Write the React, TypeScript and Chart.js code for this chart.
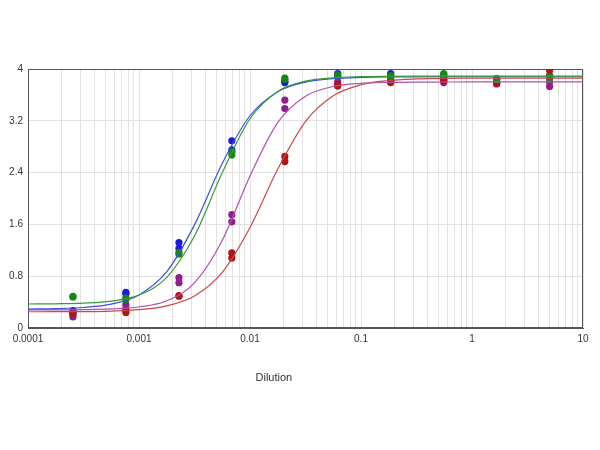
import { useEffect, useRef } from "react"
import { Chart, registerables } from "chart.js"

Chart.register(...registerables)

// dilution steps (x) of the measured points, 3-fold series
const dilutions = [0.000254, 0.000762, 0.00229, 0.00686, 0.0206, 0.0617, 0.185, 0.556, 1.667, 5]

// replicate readings per series
const greenRep1 = [0.48, 0.46, 1.14, 2.67, 3.86, 3.91, 3.9, 3.93, 3.85, 3.88]
const greenRep2 = [0.49, 0.44, 1.17, 2.72, 3.84, 3.88, 3.88, 3.91, 3.84, 3.86]
const blueRep1 = [0.27, 0.55, 1.32, 2.89, 3.79, 3.93, 3.93, 3.89, 3.83, 3.89]
const blueRep2 = [0.24, 0.53, 1.23, 2.75, 3.81, 3.89, 3.89, 3.88, 3.85, 3.87]
const purpleRep1 = [0.21, 0.36, 0.78, 1.75, 3.52, 3.8, 3.83, 3.84, 3.77, 3.8]
const purpleRep2 = [0.17, 0.3, 0.7, 1.64, 3.39, 3.74, 3.79, 3.79, 3.78, 3.73]
const redRep1 = [0.22, 0.24, 0.5, 1.16, 2.65, 3.76, 3.82, 3.82, 3.8, 3.98]
const redRep2 = [0.24, 0.27, 0.49, 1.08, 2.57, 3.74, 3.8, 3.83, 3.78, 3.9]

// fitted curves, every quarter decade
const curveX = [
  0.0001, 0.000178, 0.000316, 0.000562, 0.001, 0.00178, 0.00316, 0.00562, 0.01, 0.0178, 0.0316,
  0.0562, 0.1, 0.178, 0.316, 0.562, 1, 1.78, 3.16, 5.62, 10,
]
const greenCurve = [
  0.371, 0.374, 0.384, 0.415, 0.51, 0.783, 1.42, 2.398, 3.232, 3.654, 3.812, 3.865, 3.882, 3.888,
  3.89, 3.89, 3.89, 3.89, 3.89, 3.89, 3.89,
]
const blueCurve = [
  0.293, 0.299, 0.317, 0.368, 0.511, 0.871, 1.593, 2.542, 3.278, 3.65, 3.798, 3.852, 3.87, 3.877,
  3.879, 3.88, 3.88, 3.88, 3.88, 3.88, 3.88,
]
const purpleCurve = [
  0.28, 0.281, 0.284, 0.294, 0.324, 0.42, 0.697, 1.351, 2.348, 3.176, 3.581, 3.73, 3.778, 3.793,
  3.798, 3.799, 3.8, 3.8, 3.8, 3.8, 3.8,
]
const redCurve = [
  0.251, 0.252, 0.254, 0.262, 0.283, 0.342, 0.494, 0.858, 1.551, 2.455, 3.188, 3.586, 3.757, 3.822,
  3.846, 3.855, 3.858, 3.859, 3.86, 3.86, 3.86,
]

// axes
const xMajorTicks = [0.0001, 0.001, 0.01, 0.1, 1, 10]
const xTickLabels = ["0.0001", "0.001", "0.01", "0.1", "1", "10"]
const yTicks = [0, 0.8, 1.6, 2.4, 3.2, 4]
const yTickLabels = ["0", "0.8", "1.6", "2.4", "3.2", "4"]
const xTitle = "Dilution"

const FONT = "'Liberation Sans', Arial, sans-serif"

const toPoints = (xs: number[], ys: number[]) => xs.map((x, i) => ({ x, y: ys[i] }))

const framePlugin = {
  id: "frame",
  beforeDatasetsDraw(chart: Chart) {
    const { ctx, chartArea } = chart
    const { left, top, right, bottom } = chartArea
    ctx.save()
    ctx.strokeStyle = "#555"
    ctx.lineWidth = 1
    ctx.strokeRect(left + 0.5, top + 0.5, right - left - 1, bottom - top - 1)
    ctx.restore()
  },
  afterDraw(chart: Chart) {
    const { ctx, chartArea } = chart
    const { left, right, bottom } = chartArea
    ctx.save()
    ctx.fillStyle = "#333"
    ctx.font = `11px ${FONT}`
    ctx.textAlign = "center"
    ctx.textBaseline = "middle"
    ctx.fillText(xTitle, left + (right - left) * 0.443, bottom + 50)
    ctx.restore()
  },
}

function DilutionChart() {
  const chartRef = useRef<HTMLCanvasElement>(null)
  const chartInstance = useRef<Chart | null>(null)

  useEffect(() => {
    if (!chartRef.current) return
    const ctx = chartRef.current.getContext("2d")
    if (!ctx) return

    if (chartInstance.current) {
      chartInstance.current.destroy()
    }

    // gridline positions: 1..9 in every decade
    const xGridTicks: number[] = []
    xMajorTicks.slice(0, -1).forEach((d) => {
      for (let k = 1; k <= 9; k++) xGridTicks.push(k * d)
    })
    xGridTicks.push(xMajorTicks[xMajorTicks.length - 1])

    const curve = (label: string, ys: number[], color: string) => ({
      type: "line" as const,
      label,
      data: toPoints(curveX, ys),
      borderColor: color,
      borderWidth: 1.2,
      pointRadius: 0,
      cubicInterpolationMode: "monotone" as const,
      fill: false,
    })

    const dots = (label: string, a: number[], b: number[], color: string) => ({
      type: "scatter" as const,
      label,
      data: [...toPoints(dilutions, a), ...toPoints(dilutions, b)],
      backgroundColor: color,
      borderWidth: 0,
      pointRadius: 3.6,
      showLine: false,
    })

    chartInstance.current = new Chart(ctx, {
      type: "scatter",
      data: {
        datasets: [
          curve("Green fit", greenCurve, "#3a9a3a"),
          curve("Blue fit", blueCurve, "#3c50d8"),
          curve("Purple fit", purpleCurve, "#b050b0"),
          curve("Red fit", redCurve, "#c84848"),
          dots("Green", greenRep1, greenRep2, "#128a12"),
          dots("Red", redRep1, redRep2, "#b01414"),
          dots("Purple", purpleRep1, purpleRep2, "#8e1e8e"),
          dots("Blue", blueRep1, blueRep2, "#1a1ae0"),
        ] as any,
      },
      options: {
        responsive: true,
        maintainAspectRatio: false,
        animation: false,
        layout: {
          padding: { left: 0, top: 69, right: 17, bottom: 92 },
        },
        plugins: {
          legend: { display: false },
          tooltip: { enabled: false },
        },
        scales: {
          x: {
            type: "logarithmic",
            min: 0.0001,
            max: 10,
            afterBuildTicks: (scale) => {
              scale.ticks = xGridTicks.map((value) => ({ value }))
            },
            afterFit: (scale) => {
              scale.height = 30
            },
            grid: { color: "#e2e2e2", drawTicks: false },
            border: { color: "#555" },
            ticks: {
              autoSkip: false,
              maxRotation: 0,
              padding: 5,
              color: "#333",
              font: { family: FONT, size: 10 },
              callback: (value) => {
                const v = Number(value)
                const i = xMajorTicks.findIndex((m) => Math.abs(Math.log10(v) - Math.log10(m)) < 1e-6)
                return i >= 0 ? xTickLabels[i] : ""
              },
            },
          },
          y: {
            min: 0,
            max: 4,
            afterBuildTicks: (scale) => {
              scale.ticks = yTicks.map((value) => ({ value }))
            },
            afterFit: (scale) => {
              scale.width = 28
            },
            grid: { color: "#e2e2e2", drawTicks: false },
            border: { color: "#555" },
            ticks: {
              padding: 5,
              color: "#333",
              font: { family: FONT, size: 10 },
              callback: (_value, index) => yTickLabels[index],
            },
          },
        },
      },
      plugins: [framePlugin],
    })

    return () => {
      if (chartInstance.current) {
        chartInstance.current.destroy()
        chartInstance.current = null
      }
    }
  }, [])

  return (
    <div style={{ position: "fixed", left: 0, top: 0, width: 600, height: 450, background: "#fff" }}>
      <canvas ref={chartRef}></canvas>
    </div>
  )
}

export default function App() {
  return <DilutionChart />
}
